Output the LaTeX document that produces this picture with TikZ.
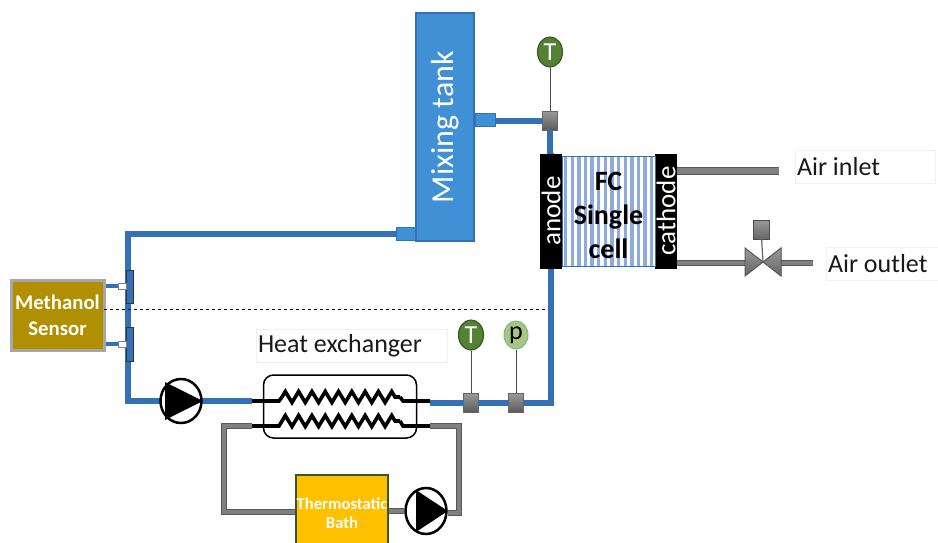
\documentclass[tikz,border=0pt]{standalone}
\usepackage{fontspec}
\setmainfont{Carlito}
\usetikzlibrary{backgrounds}
\usetikzlibrary{decorations.pathmorphing}
\usetikzlibrary{shapes.geometric}
\definecolor{pipeblue}{HTML}{3470B8}
\definecolor{tankblue}{HTML}{3F90D4}
\definecolor{stripeblue}{HTML}{8FAADC}
\definecolor{sensorgold}{HTML}{B09000}
\definecolor{bathyellow}{HTML}{FFC000}
\definecolor{darkgreen}{HTML}{385723}
\definecolor{tgreen}{HTML}{548235}
\definecolor{pgreen}{HTML}{A9C483}
\tikzset{
  box/.style={rectangle,inner sep=0pt,minimum width=#1},
  bluepipe/.style={draw=pipeblue,line width=6pt},
  greypipe/.style={draw=black!65,double=black!50,double distance=4pt,line width=1pt},
  blackpipe/.style={draw=black,line width=3.6pt},
  coil/.style={blackpipe,decorate,decoration={zigzag,segment length=13.3pt,amplitude=5.5pt}},
  gauge/.style={box=15pt,minimum height=19pt,draw=black!60,top color=black!40,bottom color=black!65},
  tsens/.style={ellipse,inner sep=0pt,minimum width=25pt,minimum height=30pt,draw=darkgreen,line width=1.2pt,fill=tgreen,text=white,font=\fontsize{26}{26}\selectfont},
  psens/.style={ellipse,inner sep=0pt,minimum width=24pt,minimum height=28pt,draw=green!45!black!50,line width=1pt,fill=pgreen,font=\fontsize{26}{26}\selectfont},
  stub/.style={box=#1,minimum height=13pt,fill=tankblue,draw=pipeblue,line width=1pt},
  bar/.style={box=7pt,fill=pipeblue,draw=black!80,line width=.8pt},
  port/.style={box=8pt,minimum height=6pt,fill=white,draw=black!50,line width=.6pt},
  tag/.style={box=#1,minimum height=33pt,draw=black!6,line width=.8pt,align=flush left,text=black!90,font=\fontsize{26}{26}\selectfont},
  pumpbody/.style={ellipse,inner sep=0pt,minimum width=41pt,minimum height=46pt,draw=black,line width=2.5pt,fill=white},
  vert/.style={rotate=90,fill=black,text=white,inner sep=0pt,minimum width=115pt,minimum height=22pt,font=\fontsize{27}{27}\selectfont}
}
\begin{document}
\begin{tikzpicture}[x=1pt,y=-1pt]
\useasboundingbox (0,0) rectangle (938,542);
\node[rotate=90,fill=tankblue,draw=pipeblue,line width=1.2pt,inner sep=0pt,minimum width=228pt,minimum height=58pt,text=white,font=\fontsize{32}{32}\selectfont](tank) at (445,127) {Mixing tank};
\node[stub=20pt](stubt) at (485,120) {};
\node[stub=19pt](stubb) at (406,234) {};

\node[gauge](gaugea) at (550,121) {};
\node[gauge](gaugeb) at (471,403) {};
\node[gauge](gaugec) at (516,403) {};
\node[tsens](senta) at (550,52) {T};
\node[tsens](sentb) at (471,335) {T};
\node[psens](senp) at (516,335) {p};

\node[vert](anode) at (551,211) {anode};
\node[vert](cathode) at (666,211) {cathode};
\node[box=93pt,minimum height=110pt,draw=pipeblue,line width=.8pt](cell) at (608.5,211) {};
\foreach \x in {0,...,13} {\fill[stripeblue] (564+6.62*\x,156.5) rectangle (567.3+6.62*\x,265.5);}
\node[align=center,font=\fontsize{28}{34}\selectfont\bfseries](celltext) at (608.5,215) {FC\\Single\\cell};

\node[box=93pt,minimum height=70pt,fill=sensorgold,draw=black!35,line width=3pt,align=center,text=white,font=\fontsize{20.8}{26}\selectfont\bfseries](sensor) at (57.5,315) {Methanol\\Sensor};
\node[bar,minimum height=33pt](bara) at (129.5,286.5) {};
\node[bar,minimum height=34pt](barb) at (129.5,344) {};
\node[port](porta) at (122,286) {};
\node[port](portb) at (122,344) {};

\node[tag=191pt,text width=187pt](hxlabel) at (351.5,345.5) {Heat exchanger};
\node[tag=140pt,text width=136pt](inlabel) at (865,166.5) {Air inlet};
\node[tag=114pt,text width=110pt](outlabel) at (883,264) {Air outlet};

\node[draw=black,line width=1.5pt,rounded corners=10pt,inner sep=0pt,minimum width=153pt,minimum height=63pt](hx) at (340,406.5) {};
\node[pumpbody,minimum height=44pt](pumpa) at (181,401) {};
\node[pumpbody](pumpb) at (426,511) {};
\node[box=92pt,minimum height=76pt,fill=bathyellow,draw=darkgreen,line width=2pt,align=center,text=white,font=\fontsize{16.6}{19}\selectfont\bfseries](bath) at (342,513) {Thermostatic\\Bath};
\fill (pumpa.east) -- (165,382) -- (165,420) -- cycle;
\fill (pumpb.east) -- (416,490) -- (416,532) -- cycle;

\coordinate(nw) at (128,234);
\coordinate(sw) at (128,401);
\coordinate(se) at (551,403);
\coordinate(hxaw) at (252,401);
\coordinate(hxae) at (430,401);
\coordinate(hxbw) at (252,426);
\coordinate(hxbe) at (430,426);
\coordinate(tailaw) at (279,401);
\coordinate(tailae) at (403,401);
\coordinate(tailbw) at (279,426);
\coordinate(tailbe) at (403,426);
\coordinate(coilaw) at (282,397);
\coordinate(coilae) at (400,397);
\coordinate(coilbw) at (282,421);
\coordinate(coilbe) at (400,421);
\coordinate(lpnw) at (224,426);
\coordinate(lpsw) at (224,512);
\coordinate(lpne) at (459,426);
\coordinate(lpse) at (459,513);
\coordinate(inend) at (779,171);
\coordinate(vlv) at (763,262);
\coordinate(vlvl) at (745,263);
\coordinate(vlvr) at (781,263);
\coordinate(outend) at (813,263);
\coordinate(dasha) at (104,309);
\coordinate(dashb) at (548,309);

\begin{scope}[on background layer]
\draw[bluepipe] (stubb.west) -- (nw) -- (sw) -- (hxaw);
\draw[bluepipe] (hxae |- se) -- (se) -- (anode.east -| se);
\draw[bluepipe] (stubt.east |- gaugea) -- (gaugea.west);
\draw[bluepipe] (gaugea.south) -- (gaugea.south |- anode.west);
\draw[bluepipe,line width=4.5pt] (sensor.east |- porta) -- (porta.west);
\draw[bluepipe,line width=4.5pt] (sensor.east |- portb) -- (portb.west);
\draw[greypipe] (hxbw) -- (lpnw) -- (lpsw) -- (bath.west |- lpsw);
\draw[greypipe] (hxbe) -- (lpne) -- (lpse) -- (pumpb.east |- lpse);
\draw[greypipe] (bath.east |- pumpb) -- (pumpb.west);
\draw[greypipe,double distance=6pt] (cathode.south |- inend) -- (inend);
\draw[greypipe] (cathode.south |- vlvl) -- (vlvl);
\draw[greypipe] (vlvr) -- (outend);
\end{scope}

\draw[black!70,line width=1pt] (senta) -- (gaugea);
\draw[black!70,line width=1pt] (sentb) -- (gaugeb);
\draw[black!70,line width=1pt] (senp) -- (gaugec);
\draw[dashed,line width=.7pt] (dasha) -- (dashb);

\draw[blackpipe] (hxaw) -- (tailaw) -- (coilaw);
\draw[blackpipe] (coilae) -- (tailae) -- (hxae);
\draw[blackpipe] (hxbw) -- (tailbw) -- (coilbw);
\draw[blackpipe] (coilbe) -- (tailbe) -- (hxbe);
\draw[coil] (coilaw) -- (coilae);
\draw[coil] (coilbw) -- (coilbe);

\node[box=16pt,minimum height=19pt,draw=black!70,top color=black!40,bottom color=black!60](act) at (761,229.5) {};
\draw[black!60,line width=1.2pt] (act) -- (vlv);
\filldraw[draw=black!65,line width=1pt,top color=black!40,bottom color=black!60] (745,248) -- (781,276) -- (781,248) -- (745,276) -- cycle;
\end{tikzpicture}
\end{document}
